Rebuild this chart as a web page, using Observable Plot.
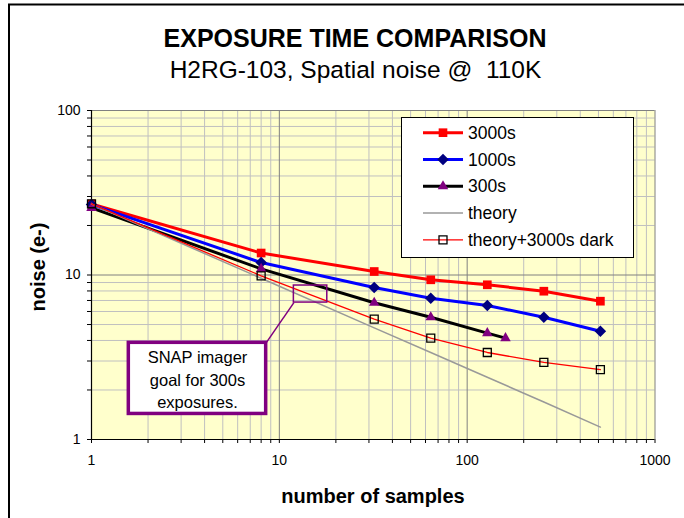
<!DOCTYPE html>
<html><head><meta charset="utf-8">
<script src="https://cdn.jsdelivr.net/npm/d3@7"></script>
<script src="https://cdn.jsdelivr.net/npm/@observablehq/plot@0.6"></script>
<style>
html,body{margin:0;padding:0;background:#fff;}
#chart{position:relative;width:684px;height:518px;overflow:hidden;}
</style></head><body><div id="chart"></div>
<script>
// ---- data ----
const samples = [1, 8, 32, 64, 128, 256, 512];
const noise3000 = [27.0, 13.6, 10.5, 9.35, 8.72, 7.97, 6.93];
const noise1000 = [26.8, 11.9, 8.40, 7.23, 6.53, 5.54, 4.55];
const samples300 = [1, 8, 32, 64, 128, 160];
const noise300 = [25.6, 10.9, 6.78, 5.54, 4.43, 4.13];
const noiseTheory = [27.0, 9.55, 4.77, 3.38, 2.39, 1.69, 1.19];
const noiseTheoryDark = [27.1, 9.89, 5.39, 4.13, 3.38, 2.94, 2.66];

const seriesNames = ["3000s", "1000s", "300s", "theory", "theory+3000s dark"];
const xTicks = [1, 10, 100, 1000];
const yTicks = [1, 10, 100];
const xMinor = [2,3,4,5,6,7,8,9,20,30,40,50,60,70,80,90,200,300,400,500,600,700,800,900];
const yMinor = [2,3,4,5,6,7,8,9,20,30,40,50,60,70,80,90];

const titleText = "EXPOSURE TIME COMPARISON";
const subtitleText = "H2RG-103, Spatial noise @  110K";
const xLabel = "number of samples";
const yLabel = "noise (e-)";
const calloutText = "SNAP imager\ngoal for 300s\nexposures.";
const goalBox = {x1: 11.95, x2: 18.0, y1: 6.80, y2: 8.63};
const calloutBox = {x1: 1.58, x2: 8.51, y1: 1.43, y2: 3.87};

// ---- tables ----
const rows = (xs, ys, name) => xs.map((x, i) => ({x, y: ys[i], name}));
const d3000 = rows(samples, noise3000, seriesNames[0]);
const d1000 = rows(samples, noise1000, seriesNames[1]);
const d300 = rows(samples300, noise300, seriesNames[2]);
const dTh = rows(samples, noiseTheory, seriesNames[3]);
const dThD = rows(samples, noiseTheoryDark, seriesNames[4]);

const FONT = "'Liberation Sans', Arial, Helvetica, sans-serif";
const PURPLE = "#800080";

const plot = Plot.plot({
  width: 684, height: 518,
  marginLeft: 91, marginRight: 29.5, marginTop: 110, marginBottom: 79,
  x: {type: "log", domain: [1, 1000]},
  y: {type: "log", domain: [1, 100]},
  style: {fontFamily: FONT, fontSize: "13.5px", color: "black", background: "transparent"},
  marks: [
    Plot.frame({fill: "#FFFFCC", stroke: null}),
    Plot.ruleX(xMinor, {stroke: "#C0C0C0", strokeWidth: 1}),
    Plot.ruleY(yMinor, {stroke: "#C0C0C0", strokeWidth: 1}),
    Plot.ruleX([10, 100, 1000], {stroke: "#808080", strokeWidth: 1}),
    Plot.ruleY([10, 100], {stroke: "#808080", strokeWidth: 1}),
    Plot.ruleX([1], {stroke: "black", strokeWidth: 1.2}),
    Plot.ruleY([1], {stroke: "black", strokeWidth: 1.2}),
    Plot.axisX(xMinor, {tickSize: 4, tickFormat: () => "", label: null, stroke: "black"}),
    Plot.axisY(yMinor, {tickSize: 4, tickFormat: () => "", label: null, stroke: "black"}),
    Plot.axisX(xTicks, {tickSize: 4, tickPadding: 12, tickFormat: d => String(d), label: null, fontSize: 13.5}),
    Plot.axisY(yTicks, {tickSize: 4, tickPadding: 7, tickFormat: d => String(d), label: null, fontSize: 13.5}),

    // series, drawn in legend order
    Plot.line(d3000, {x: "x", y: "y", stroke: "#FF0000", strokeWidth: 3}),
    Plot.dot(d3000, {x: "x", y: "y", symbol: "square", r: 4.9, fill: "#FF0000"}),
    Plot.line(d1000, {x: "x", y: "y", stroke: "#0000FF", strokeWidth: 3}),
    Plot.dot(d1000, {x: "x", y: "y", symbol: "diamond2", r: 5.2, fill: "#000080"}),
    Plot.line(d300, {x: "x", y: "y", stroke: "#000000", strokeWidth: 3}),
    Plot.dot(d300, {x: "x", y: "y", symbol: "triangle", r: 3.9, fill: PURPLE}),
    Plot.line(dTh, {x: "x", y: "y", stroke: "#999999", strokeWidth: 1.5}),
    Plot.line(dThD, {x: "x", y: "y", stroke: "#FF0000", strokeWidth: 1.3}),
    Plot.dot(dThD, {x: "x", y: "y", symbol: "square", r: 4.5, fill: "none", stroke: "black", strokeWidth: 1.3}),

    // annotation
    Plot.rect([goalBox], {x1: "x1", x2: "x2", y1: "y1", y2: "y2", fill: "none", stroke: PURPLE, strokeWidth: 1.5}),
    Plot.link([{a: goalBox.x1, b: goalBox.y1, c: calloutBox.x2, d: calloutBox.y2}], {x1: "a", y1: "b", x2: "c", y2: "d", stroke: PURPLE, strokeWidth: 1.5}),
    Plot.rect([calloutBox], {x1: "x1", x2: "x2", y1: "y1", y2: "y2", fill: "white", stroke: PURPLE, strokeWidth: 3.5}),
    Plot.text([calloutText], {x: Math.sqrt(calloutBox.x1 * calloutBox.x2), y: Math.sqrt(calloutBox.y1 * calloutBox.y2), text: d => d, fontSize: 16.5, lineHeight: 1.38, fill: "black"})
  ]
});

document.getElementById("chart").appendChild(plot);
const svg = d3.select(plot);
svg.selectAll('g[aria-label*="tick label"] text').style("font-size", "14px");

// outer chart border
svg.append("rect").attr("x", 9).attr("y", 4.5).attr("width", 720).attr("height", 600)
  .attr("fill", "none").attr("stroke", "black").attr("stroke-width", 2);

// titles
svg.append("text").attr("x", 355).attr("y", 47).attr("text-anchor", "middle")
  .style("font", `bold 25px ${FONT}`).attr("fill", "black").text(titleText);
svg.append("text").attr("x", 355.5).attr("y", 78).attr("text-anchor", "middle")
  .style("font", `24.5px ${FONT}`).attr("fill", "black").text(subtitleText);
svg.append("text").attr("x", 373).attr("y", 503).attr("text-anchor", "middle")
  .style("font", `bold 20px ${FONT}`).attr("fill", "black").text(xLabel);
svg.append("text").attr("transform", "translate(45,267) rotate(-90)").attr("text-anchor", "middle")
  .style("font", `bold 20px ${FONT}`).attr("fill", "black").text(yLabel);

// legend
const leg = svg.append("g");
leg.append("rect").attr("x", 401.5).attr("y", 117.5).attr("width", 232).attr("height", 140)
  .attr("fill", "white").attr("stroke", "black").attr("stroke-width", 1);
const legendStyle = [
  {stroke: "#FF0000", w: 3, sym: d3.symbolSquare, size: 75, fill: "#FF0000", mstroke: "none"},
  {stroke: "#0000FF", w: 3, sym: d3.symbolDiamond2, size: 85, fill: "#000080", mstroke: "none"},
  {stroke: "#000000", w: 3, sym: d3.symbolTriangle, size: 48, fill: PURPLE, mstroke: "none"},
  {stroke: "#999999", w: 1.5, sym: null},
  {stroke: "#FF0000", w: 1.3, sym: d3.symbolSquare, size: 64, fill: "none", mstroke: "black"}
];
seriesNames.forEach((name, i) => {
  const y = 132.7 + i * 26.8;
  const s = legendStyle[i];
  leg.append("line").attr("x1", 423).attr("x2", 463).attr("y1", y).attr("y2", y)
    .attr("stroke", s.stroke).attr("stroke-width", s.w);
  if (s.sym) {
    leg.append("path").attr("d", d3.symbol(s.sym, s.size)())
      .attr("transform", `translate(443,${y})`).attr("fill", s.fill)
      .attr("stroke", s.mstroke).attr("stroke-width", 1.3);
  }
  leg.append("text").attr("x", 468).attr("y", y).attr("dy", "0.35em").attr("text-anchor", "start")
    .style("font", `17.5px ${FONT}`).attr("fill", "black").text(name);
});
</script></body></html>
